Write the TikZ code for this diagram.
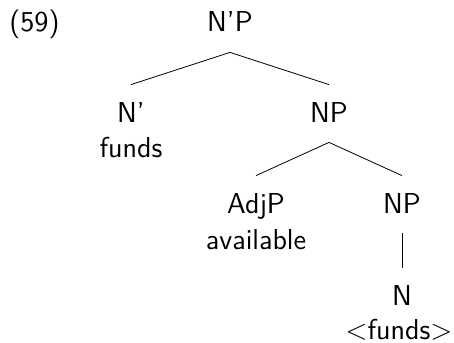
\documentclass[tikz,border=0pt]{standalone}
\usepackage{fontspec}

\begin{document}
\begin{tikzpicture}[
    x=0.5pt, y=-0.5pt,
    font=\sffamily\fontsize{14.4}{17.5}\selectfont,
    cat/.style = {
      anchor = base,
      inner xsep = 2pt,
      inner ysep = 8.5pt,
      text height = 10pt,
      text depth = 1.5pt
    },
    word/.style = {
      anchor = base,
      inner sep = 0pt
    }
  ]
  \useasboundingbox (0,0) rectangle (454,342);

  \node[anchor=base west, inner sep=0pt] (ex) at (9,32) {(59)};

  \node[cat]  (top)    at (230,32)  {N'P};
  \node[cat]  (nbar)   at (131,122) {N'};
  \node[word] (wfunds) at (131,157) {funds};
  \node[cat]  (np)     at (329,122) {NP};
  \node[cat]  (adjp)   at (256,213) {AdjP};
  \node[word] (wavail) at (256,249) {available};
  \node[cat]  (np2)    at (402,213) {NP};
  \node[cat]  (n)      at (402,305) {N};
  \node[word] (wn)     at (399,339) {<funds>};

  \draw (top.south) -- (nbar.north);
  \draw (top.south) -- (np.north);
  \draw (np.south)  -- (adjp.north);
  \draw (np.south)  -- (np2.north);
  \draw (np2.south) -- (n.north);
\end{tikzpicture}
\end{document}
